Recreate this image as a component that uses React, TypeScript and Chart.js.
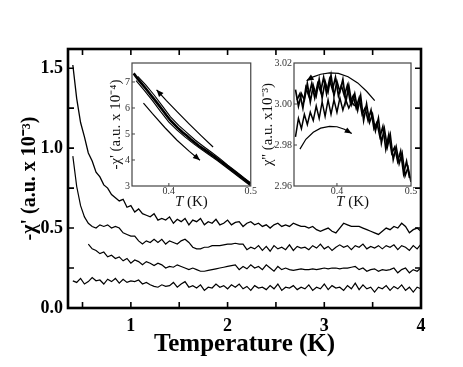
import React, { useEffect, useRef } from "react";
import { Chart, registerables } from "chart.js";

Chart.register(...registerables);

const SERIF = '"Liberation Serif", "Times New Roman", Times, serif';

// ---------- Main panel data ----------
const T_GRID = [
  0.40, 0.44, 0.48, 0.52, 0.56, 0.60, 0.64, 0.68, 0.72, 0.76,
  0.80, 0.84, 0.88, 0.92, 0.96, 1.00, 1.04, 1.08, 1.12, 1.16,
  1.20, 1.24, 1.28, 1.32, 1.36, 1.40, 1.44, 1.48, 1.52, 1.56,
  1.60, 1.64, 1.68, 1.72, 1.76, 1.80, 1.84, 1.88, 1.92, 1.96,
  2.00, 2.04, 2.08, 2.12, 2.16, 2.20, 2.24, 2.28, 2.32, 2.36,
  2.40, 2.44, 2.48, 2.52, 2.56, 2.60, 2.64, 2.68, 2.72, 2.76,
  2.80, 2.84, 2.88, 2.92, 2.96, 3.00, 3.04, 3.08, 3.12, 3.16,
  3.20, 3.24, 3.28, 3.32, 3.36, 3.40, 3.44, 3.48, 3.52, 3.56,
  3.60, 3.64, 3.68, 3.72, 3.76, 3.80, 3.84, 3.88, 3.92, 3.96,
  4.00,
];

const CURVE_1 = [
  1.52, 1.31, 1.16, 1.07, 0.97, 0.92, 0.85, 0.82, 0.77, 0.75,
  0.71, 0.69, 0.67, 0.68, 0.63, 0.64, 0.60, 0.62, 0.59, 0.58,
  0.57, 0.59, 0.55, 0.56, 0.55, 0.57, 0.53, 0.555, 0.54, 0.56,
  0.52, 0.55, 0.54, 0.56, 0.52, 0.54, 0.53, 0.555, 0.52, 0.53,
  0.55, 0.52, 0.535, 0.54, 0.51, 0.53, 0.54, 0.52, 0.53, 0.51,
  0.52, 0.50, 0.52, 0.53, 0.51, 0.52, 0.51, 0.53, 0.52, 0.51,
  0.51, 0.50, 0.51, 0.49, 0.48, 0.49, 0.50, 0.48, 0.47, 0.50,
  0.53, 0.52, 0.51, 0.51, 0.51, 0.50, 0.49, 0.48, 0.47, 0.46,
  0.48, 0.50, 0.49, 0.51, 0.50, 0.53, 0.51, 0.47, 0.49, 0.50,
  0.48,
];

const CURVE_2 = [
  0.95, 0.76, 0.64, 0.57, 0.53, 0.51, 0.50, 0.52, 0.51, 0.52,
  0.50, 0.51, 0.50, 0.47, 0.46, 0.45, 0.45, 0.42, 0.40, 0.42,
  0.41, 0.43, 0.41, 0.43, 0.40, 0.42, 0.41, 0.40, 0.42, 0.43,
  0.41, 0.38, 0.37, 0.37, 0.38, 0.38, 0.39, 0.39, 0.39, 0.395,
  0.40, 0.40, 0.405, 0.40, 0.40, 0.365, 0.38, 0.37, 0.39, 0.36,
  0.385, 0.355, 0.39, 0.37, 0.38, 0.365, 0.395, 0.36, 0.385, 0.375,
  0.38, 0.365, 0.39, 0.375, 0.40, 0.37, 0.385, 0.36, 0.38, 0.395,
  0.38, 0.39, 0.365, 0.39, 0.38, 0.40, 0.37, 0.385, 0.375, 0.39,
  0.37, 0.39, 0.38, 0.395, 0.365, 0.39, 0.38, 0.36, 0.39, 0.37,
  0.40,
];

const CURVE_3 = [
  null, null, null, null, 0.40, 0.37, 0.36, 0.34, 0.35, 0.32,
  0.33, 0.31, 0.32, 0.295, 0.31, 0.28, 0.30, 0.29, 0.27, 0.29,
  0.28, 0.265, 0.28, 0.27, 0.25, 0.26, 0.255, 0.27, 0.26, 0.25,
  0.24, 0.25, 0.24, 0.23, 0.23, 0.235, 0.24, 0.245, 0.25, 0.255,
  0.26, 0.265, 0.27, 0.24, 0.26, 0.245, 0.27, 0.25, 0.26, 0.24,
  0.27, 0.25, 0.23, 0.26, 0.24, 0.25, 0.24, 0.235, 0.24, 0.245,
  0.24, 0.24, 0.245, 0.24, 0.245, 0.25, 0.245, 0.25, 0.25, 0.245,
  0.25, 0.25, 0.255, 0.26, 0.24, 0.25, 0.23, 0.24, 0.245, 0.23,
  0.24, 0.235, 0.24, 0.25, 0.22, 0.24, 0.25, 0.22, 0.24, 0.23,
  0.25,
];

const CURVE_4 = [
  0.17, 0.16, 0.185, 0.15, 0.165, 0.19, 0.17, 0.175, 0.15, 0.18,
  0.165, 0.185, 0.155, 0.18, 0.16, 0.17, 0.165, 0.175, 0.15, 0.16,
  0.145, 0.135, 0.13, 0.145, 0.135, 0.14, 0.16, 0.13, 0.15, 0.165,
  0.13, 0.14, 0.125, 0.145, 0.11, 0.13, 0.125, 0.15, 0.13, 0.14,
  0.12, 0.145, 0.13, 0.15, 0.12, 0.135, 0.11, 0.14, 0.125, 0.13,
  0.115, 0.14, 0.12, 0.15, 0.11, 0.13, 0.125, 0.14, 0.115, 0.13,
  0.12, 0.145, 0.11, 0.13, 0.12, 0.15, 0.115, 0.14, 0.125, 0.13,
  0.11, 0.14, 0.12, 0.155, 0.115, 0.145, 0.12, 0.13, 0.10, 0.13,
  0.12, 0.14, 0.11, 0.135, 0.12, 0.145, 0.11, 0.13, 0.10, 0.13,
  0.12,
];

const MAIN_X_TICKS = [0.5, 1, 1.5, 2, 2.5, 3, 3.5, 4];
const MAIN_X_LABELED = [1, 2, 3, 4];
const MAIN_Y_TICKS = [0, 0.25, 0.5, 0.75, 1, 1.25, 1.5];
const MAIN_Y_LABELED = [0, 0.5, 1, 1.5];

// ---------- Inset 1 (chi' vs T) ----------
const IN1_BAND_T = [
  0.357, 0.362, 0.367, 0.372, 0.377, 0.382, 0.387, 0.392, 0.397, 0.402,
  0.407, 0.412, 0.417, 0.422, 0.427, 0.432, 0.437, 0.442, 0.447, 0.452,
  0.457, 0.462, 0.467, 0.472, 0.477, 0.482, 0.487, 0.492, 0.497, 0.500,
];
const IN1_BAND_V = [
  7.33, 7.12, 6.93, 6.74, 6.54, 6.34, 6.14, 5.93, 5.72, 5.52,
  5.36, 5.20, 5.06, 4.93, 4.79, 4.66, 4.54, 4.43, 4.32, 4.21,
  4.10, 3.98, 3.86, 3.74, 3.62, 3.50, 3.38, 3.26, 3.14, 3.07,
];
const IN1_STRAND2_T = [0.362, 0.372, 0.382, 0.392, 0.402, 0.412, 0.422, 0.432, 0.442, 0.452, 0.462, 0.472, 0.482, 0.492, 0.500];
const IN1_STRAND2_V = [7.22, 6.88, 6.50, 6.08, 5.66, 5.33, 5.05, 4.77, 4.53, 4.30, 4.06, 3.80, 3.56, 3.31, 3.12];
const IN1_STRAND3_T = [0.360, 0.370, 0.380, 0.390, 0.400, 0.410, 0.420, 0.430, 0.440, 0.450, 0.460, 0.470, 0.480, 0.490, 0.500];
const IN1_STRAND3_V = [7.05, 6.68, 6.28, 5.86, 5.46, 5.15, 4.88, 4.63, 4.40, 4.18, 3.96, 3.72, 3.48, 3.24, 3.00];
const IN1_ARROW_UP_T = [0.454, 0.440, 0.425, 0.410, 0.397, 0.385];
const IN1_ARROW_UP_V = [4.50, 4.92, 5.38, 5.86, 6.28, 6.70];
const IN1_ARROW_DOWN_T = [0.369, 0.380, 0.395, 0.410, 0.425, 0.438];
const IN1_ARROW_DOWN_V = [6.19, 5.78, 5.25, 4.76, 4.33, 3.99];
const IN1_X_TICKS = [0.4, 0.5];
const IN1_Y_TICKS = [3, 4, 5, 6, 7];

// ---------- Inset 2 (chi'' vs T) ----------
const IN2_UPPER_A_T = [
  0.344, 0.348, 0.352, 0.356, 0.360, 0.364, 0.368, 0.372, 0.376, 0.380,
  0.384, 0.388, 0.392, 0.396, 0.400, 0.404, 0.408, 0.412, 0.416, 0.420,
  0.424, 0.428, 0.432, 0.436, 0.440, 0.444, 0.448, 0.452, 0.456, 0.460,
  0.464, 0.468, 0.472, 0.476, 0.480, 0.484, 0.488, 0.492, 0.496, 0.500,
];
const IN2_UPPER_A_V = [
  3.007, 2.999, 3.005, 3.002, 3.010, 3.001, 3.009, 3.004, 3.012, 3.003,
  3.011, 3.006, 3.014, 3.004, 3.011, 3.006, 3.012, 3.001, 3.009, 3.000,
  3.005, 2.997, 3.004, 2.992, 3.000, 2.991, 2.995, 2.987, 2.993, 2.981,
  2.988, 2.979, 2.985, 2.973, 2.979, 2.971, 2.976, 2.965, 2.969, 2.962,
];
const IN2_UPPER_B_T = [
  0.346, 0.350, 0.354, 0.358, 0.362, 0.366, 0.370, 0.374, 0.378, 0.382,
  0.386, 0.390, 0.394, 0.398, 0.402, 0.406, 0.410, 0.414, 0.418, 0.422,
  0.426, 0.430, 0.434, 0.438, 0.442, 0.446, 0.450, 0.454, 0.458, 0.462,
  0.466, 0.470, 0.474, 0.478, 0.482, 0.486, 0.490, 0.494, 0.498,
];
const IN2_UPPER_B_V = [
  3.002, 3.005, 2.998, 3.008, 3.004, 3.010, 3.003, 3.010, 3.006, 3.013,
  3.005, 3.012, 3.007, 3.013, 3.004, 3.009, 3.004, 3.009, 3.001, 3.004,
  2.998, 3.003, 2.995, 2.998, 2.992, 2.997, 2.988, 2.991, 2.984, 2.989,
  2.978, 2.985, 2.976, 2.979, 2.972, 2.977, 2.966, 2.972, 2.964,
];
const IN2_LOWER_T = [
  0.344, 0.348, 0.352, 0.356, 0.360, 0.364, 0.368, 0.372, 0.376, 0.380,
  0.384, 0.388, 0.392, 0.396, 0.400, 0.404, 0.408, 0.412, 0.416, 0.420,
  0.424,
];
const IN2_LOWER_V = [
  2.984, 2.993, 2.988, 2.995, 2.990, 2.996, 2.992, 2.999, 2.993, 3.001,
  2.994, 3.002, 2.995, 3.002, 2.996, 3.003, 2.997, 3.002, 2.998, 3.001,
  2.999,
];
const IN2_ARROW_TOP_T = [0.451, 0.440, 0.428, 0.415, 0.402, 0.390, 0.378, 0.367, 0.359];
const IN2_ARROW_TOP_V = [3.0016, 3.0062, 3.0103, 3.0133, 3.0149, 3.0152, 3.0145, 3.0131, 3.0113];
const IN2_ARROW_BOTTOM_T = [0.350, 0.358, 0.368, 0.378, 0.390, 0.400, 0.410, 0.420];
const IN2_ARROW_BOTTOM_V = [2.978, 2.9828, 2.9862, 2.9882, 2.9891, 2.9889, 2.9877, 2.9856];
const IN2_X_TICKS = [0.4, 0.5];
const IN2_Y_TICKS = [2.96, 2.98, 3.0, 3.02];

// ---------- helpers ----------
const pts = (xs: number[], ys: (number | null)[]) => xs.map((x, i) => ({ x, y: ys[i] }));

const line = (data: any[], width: number) => ({
  data,
  borderColor: "#000",
  backgroundColor: "#000",
  borderWidth: width,
  pointRadius: 0,
  tension: 0,
  fill: false,
  spanGaps: false,
});

const frameTicksPlugin = {
  id: "frameTicks",
  beforeDraw(chart: any, _a: any, opts: any) {
    if (!opts.fillArea) return;
    const { ctx, chartArea: a } = chart;
    ctx.save();
    ctx.fillStyle = "#fff";
    ctx.fillRect(a.left, a.top, a.right - a.left, a.bottom - a.top);
    ctx.restore();
  },
  afterDraw(chart: any, _a: any, opts: any) {
    const { ctx, chartArea: a, scales } = chart;
    ctx.save();
    ctx.strokeStyle = opts.color || "#000";
    ctx.lineWidth = opts.tickWidth;
    const L = opts.tickLen;
    ctx.beginPath();
    for (const t of scales.x.ticks) {
      const px = scales.x.getPixelForValue(t.value);
      if (px <= a.left + 1 || px >= a.right - 1) continue;
      ctx.moveTo(px, a.bottom);
      ctx.lineTo(px, a.bottom - L);
      if (opts.mirror) {
        ctx.moveTo(px, a.top);
        ctx.lineTo(px, a.top + L);
      }
    }
    for (const t of scales.y.ticks) {
      const py = scales.y.getPixelForValue(t.value);
      if (py <= a.top + 1 || py >= a.bottom - 1) continue;
      ctx.moveTo(a.left, py);
      ctx.lineTo(a.left + L, py);
      if (opts.mirror) {
        ctx.moveTo(a.right, py);
        ctx.lineTo(a.right - L, py);
      }
    }
    ctx.stroke();
    ctx.lineWidth = opts.frameWidth;
    ctx.strokeStyle = opts.frameColor || "#000";
    ctx.strokeRect(a.left, a.top, a.right - a.left, a.bottom - a.top);
    ctx.restore();
  },
};

const arrowPlugin = {
  id: "arrowHeads",
  afterDatasetsDraw(chart: any, _a: any, opts: any) {
    const list: number[] = opts.datasets || [];
    const { ctx } = chart;
    ctx.save();
    ctx.fillStyle = "#000";
    for (const idx of list) {
      const meta = chart.getDatasetMeta(idx);
      const p = meta.data;
      if (!p || p.length < 2) continue;
      const tip = p[p.length - 1];
      const prev = p[p.length - 2];
      const ang = Math.atan2(tip.y - prev.y, tip.x - prev.x);
      const len = 7;
      const hw = 3;
      const bx = tip.x - len * Math.cos(ang);
      const by = tip.y - len * Math.sin(ang);
      ctx.beginPath();
      ctx.moveTo(tip.x, tip.y);
      ctx.lineTo(bx + hw * Math.sin(ang), by - hw * Math.cos(ang));
      ctx.lineTo(bx - hw * Math.sin(ang), by + hw * Math.cos(ang));
      ctx.closePath();
      ctx.fill();
    }
    ctx.restore();
  },
};

const tkTitlePlugin = {
  id: "tkTitle",
  afterDraw(chart: any, _a: any, opts: any) {
    if (!opts.show) return;
    const { ctx, chartArea: a } = chart;
    ctx.save();
    ctx.fillStyle = "#111";
    ctx.textBaseline = "middle";
    const fItal = `italic 15px ${SERIF}`;
    const fReg = `15px ${SERIF}`;
    ctx.font = fItal;
    const w1 = ctx.measureText("T").width;
    ctx.font = fReg;
    const w2 = ctx.measureText(" (K)").width;
    const x0 = (a.left + a.right) / 2 - (w1 + w2) / 2;
    const y = a.bottom + opts.offset;
    ctx.font = fItal;
    ctx.fillText("T", x0, y);
    ctx.font = fReg;
    ctx.fillText(" (K)", x0 + w1, y);
    ctx.restore();
  },
};

function mainConfig(): any {
  return {
    type: "line",
    data: {
      datasets: [
        line(pts(T_GRID, CURVE_1), 1.3),
        line(pts(T_GRID, CURVE_2), 1.2),
        line(pts(T_GRID, CURVE_3), 1.2),
        line(pts(T_GRID, CURVE_4), 1.2),
      ],
    },
    options: {
      animation: false,
      responsive: false,
      devicePixelRatio: 1,
      events: [],
      layout: { padding: { left: 0, top: 49, right: 42, bottom: 0 } },
      plugins: {
        legend: { display: false },
        tooltip: { enabled: false },
        frameTicks: { tickLen: 6, tickWidth: 1.6, frameWidth: 2.6, mirror: true },
      },
      scales: {
        x: {
          type: "linear",
          min: 0.35,
          max: 4.0,
          afterBuildTicks: (s: any) => {
            s.ticks = MAIN_X_TICKS.map((v) => ({ value: v }));
          },
          afterFit: (s: any) => {
            s.height = 59;
          },
          grid: { display: false, drawTicks: false },
          border: { display: false },
          ticks: {
            padding: 8,
            autoSkip: false,
            maxRotation: 0,
            color: "#000",
            font: { family: SERIF, size: 18, weight: "bold" },
            callback: (v: number) => (MAIN_X_LABELED.includes(v) ? String(v) : ""),
          },
          title: {
            display: true,
            text: "Temperature (K)",
            color: "#000",
            font: { family: SERIF, size: 25, weight: "bold" },
            padding: { top: 0, bottom: 7 },
          },
        },
        y: {
          type: "linear",
          min: 0,
          max: 1.62,
          afterBuildTicks: (s: any) => {
            s.ticks = MAIN_Y_TICKS.map((v) => ({ value: v }));
          },
          afterFit: (s: any) => {
            s.width = 68;
          },
          grid: { display: false, drawTicks: false },
          border: { display: false },
          ticks: {
            padding: 5,
            autoSkip: false,
            color: "#000",
            font: { family: SERIF, size: 18, weight: "bold" },
            callback: (v: number) => (MAIN_Y_LABELED.includes(v) ? v.toFixed(1) : ""),
          },
          title: {
            display: true,
            text: "-\u03C7' (a.u. x 10\u207B\u00B3)",
            color: "#000",
            font: { family: SERIF, size: 20, weight: "bold" },
            padding: { top: 18, bottom: 0 },
          },
        },
      },
    },
    plugins: [frameTicksPlugin],
  };
}

function insetScales(opts: {
  xMin: number; xMax: number; yMin: number; yMax: number;
  xTicks: number[]; yTicks: number[]; yWidth: number; xHeight: number;
  yTitle: string; yTitlePad: number; yDigits: number;
}): any {
  return {
    x: {
      type: "linear",
      min: opts.xMin,
      max: opts.xMax,
      afterBuildTicks: (s: any) => {
        s.ticks = opts.xTicks.map((v) => ({ value: v }));
      },
      afterFit: (s: any) => {
        s.height = opts.xHeight;
      },
      grid: { display: false, drawTicks: false },
      border: { display: false },
      ticks: {
        padding: 0,
        autoSkip: false,
        maxRotation: 0,
        color: "#333",
        font: { family: SERIF, size: 10, lineHeight: 1 },
        callback: (v: number) => v.toFixed(1),
      },
      title: { display: false },
    },
    y: {
      type: "linear",
      min: opts.yMin,
      max: opts.yMax,
      afterBuildTicks: (s: any) => {
        s.ticks = opts.yTicks.map((v) => ({ value: v }));
      },
      afterFit: (s: any) => {
        s.width = opts.yWidth;
      },
      grid: { display: false, drawTicks: false },
      border: { display: false },
      ticks: {
        padding: 2,
        autoSkip: false,
        color: "#333",
        font: { family: SERIF, size: 10 },
        callback: (v: number) => v.toFixed(opts.yDigits),
      },
      title: {
        display: true,
        text: opts.yTitle,
        color: "#111",
        font: { family: SERIF, size: 15 },
        padding: { top: opts.yTitlePad, bottom: 0 },
      },
    },
  };
}

function inset1Config(): any {
  return {
    type: "line",
    data: {
      datasets: [
        line(pts(IN1_BAND_T, IN1_BAND_V), 2.6),
        line(pts(IN1_STRAND2_T, IN1_STRAND2_V), 1.1),
        line(pts(IN1_STRAND3_T, IN1_STRAND3_V), 1.1),
        line(pts(IN1_ARROW_UP_T, IN1_ARROW_UP_V), 1.2),
        line(pts(IN1_ARROW_DOWN_T, IN1_ARROW_DOWN_V), 1.2),
      ],
    },
    options: {
      animation: false,
      responsive: false,
      devicePixelRatio: 1,
      events: [],
      layout: { padding: { left: 0, top: 7, right: 6, bottom: 0 } },
      plugins: {
        legend: { display: false },
        tooltip: { enabled: false },
        frameTicks: { tickLen: 3, tickWidth: 1, frameWidth: 1.2, frameColor: "#444", color: "#444", mirror: false, fillArea: true },
        arrowHeads: { datasets: [3, 4] },
        tkTitle: { show: true, offset: 16 },
      },
      scales: insetScales({
        xMin: 0.355, xMax: 0.5, yMin: 3, yMax: 7.73,
        xTicks: IN1_X_TICKS, yTicks: IN1_Y_TICKS, yWidth: 40, xHeight: 31,
        yTitle: "-\u03C7' (a.u. x 10\u207B\u2074)", yTitlePad: 15, yDigits: 0,
      }),
    },
    plugins: [frameTicksPlugin, arrowPlugin, tkTitlePlugin],
  };
}

function inset2Config(): any {
  return {
    type: "line",
    data: {
      datasets: [
        line(pts(IN2_UPPER_A_T, IN2_UPPER_A_V), 1.7),
        line(pts(IN2_UPPER_B_T, IN2_UPPER_B_V), 1.7),
        line(pts(IN2_LOWER_T, IN2_LOWER_V), 1.5),
        line(pts(IN2_ARROW_TOP_T, IN2_ARROW_TOP_V), 1.2),
        line(pts(IN2_ARROW_BOTTOM_T, IN2_ARROW_BOTTOM_V), 1.2),
      ],
    },
    options: {
      animation: false,
      responsive: false,
      devicePixelRatio: 1,
      events: [],
      layout: { padding: { left: 0, top: 7, right: 7, bottom: 0 } },
      plugins: {
        legend: { display: false },
        tooltip: { enabled: false },
        frameTicks: { tickLen: 3, tickWidth: 1, frameWidth: 1.2, frameColor: "#444", color: "#444", mirror: false, fillArea: true },
        arrowHeads: { datasets: [3, 4] },
        tkTitle: { show: true, offset: 16 },
      },
      scales: insetScales({
        xMin: 0.342, xMax: 0.5, yMin: 2.96, yMax: 3.02,
        xTicks: IN2_X_TICKS, yTicks: IN2_Y_TICKS, yWidth: 36, xHeight: 31,
        yTitle: "\u03C7'' (a.u. x10\u207B\u00B3)", yTitlePad: 1, yDigits: 2,
      }),
    },
    plugins: [frameTicksPlugin, arrowPlugin, tkTitlePlugin],
  };
}

export default function App() {
  const mainRef = useRef<HTMLCanvasElement>(null);
  const in1Ref = useRef<HTMLCanvasElement>(null);
  const in2Ref = useRef<HTMLCanvasElement>(null);

  useEffect(() => {
    const charts = [
      new Chart(mainRef.current as HTMLCanvasElement, mainConfig()),
      new Chart(in1Ref.current as HTMLCanvasElement, inset1Config()),
      new Chart(in2Ref.current as HTMLCanvasElement, inset2Config()),
    ];
    return () => charts.forEach((c) => c.destroy());
  }, []);

  return (
    <div style={{ position: "fixed", left: 0, top: 0, width: 463, height: 367, background: "#fff", overflow: "hidden" }}>
      <canvas ref={mainRef} width={463} height={367} style={{ position: "absolute", left: 0, top: 0, width: 463, height: 367 }} />
      <canvas ref={in1Ref} width={165} height={162} style={{ position: "absolute", left: 92, top: 55, width: 165, height: 162 }} />
      <canvas ref={in2Ref} width={160} height={162} style={{ position: "absolute", left: 258, top: 55, width: 160, height: 162 }} />
    </div>
  );
}
